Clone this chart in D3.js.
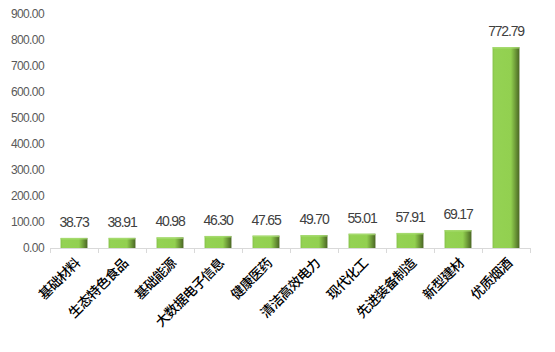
<!DOCTYPE html>
<html>
<head>
<meta charset="utf-8">
<script src="https://cdn.jsdelivr.net/npm/d3@7"></script>
<style>
  body { margin: 0; background: #fff; }
  text { font-family: "Liberation Sans", "Noto Sans CJK SC", sans-serif; }
</style>
</head>
<body>
<div id="chart"></div>
<script>
// categories and values
const categories = ["基础材料", "生态特色食品", "基础能源", "大数据电子信息", "健康医药",
    "清洁高效电力", "现代化工", "先进装备制造", "新型建材", "优质烟酒"];
const values = [38.73, 38.91, 40.98, 46.30, 47.65, 49.70, 55.01, 57.91, 69.17, 772.79];
const yTicks = [0, 100, 200, 300, 400, 500, 600, 700, 800, 900];

const W = 555, H = 352;
const margin = { top: 14, right: 25, bottom: 104, left: 50 };
const width = W - margin.left - margin.right;
const height = H - margin.top - margin.bottom;

const svgRoot = d3.select("#chart").append("svg")
    .attr("width", W)
    .attr("height", H);

// =========================
// BAR GRADIENT (3D look)
// =========================
const defs = svgRoot.append("defs");
const grad = defs.append("linearGradient")
    .attr("id", "barGrad")
    .attr("x1", "0%").attr("x2", "100%")
    .attr("y1", "0%").attr("y2", "0%");
[
    ["0%", "#86c24a"],
    ["8%", "#94d253"],
    ["68%", "#92d050"],
    ["80%", "#78aa3f"],
    ["100%", "#4a6624"]
].forEach(([o, c]) => grad.append("stop").attr("offset", o).attr("stop-color", c));

const svg = svgRoot.append("g")
    .attr("transform", `translate(${margin.left},${margin.top})`);

const x = d3.scaleBand()
    .domain(categories)
    .range([0, width])
    .paddingInner(0.44)
    .paddingOuter(0.22);

const y = d3.scaleLinear()
    .domain([0, 900])
    .range([height, 0]);

// y axis labels (no line)
const yAxis = svg.append("g")
    .call(d3.axisLeft(y).tickValues(yTicks).tickFormat(d3.format(".2f")).tickSize(0).tickPadding(6));
yAxis.select(".domain").remove();
yAxis.selectAll("text")
    .attr("fill", "#595959")
    .style("font-size", "12px")
    .style("letter-spacing", "-0.6px")
    .style("font-family", "Liberation Sans, sans-serif");

// bars
svg.selectAll(".bar")
    .data(values)
    .enter()
    .append("rect")
    .attr("class", "bar")
    .attr("x", (d, i) => x(categories[i]))
    .attr("y", d => y(d))
    .attr("width", x.bandwidth())
    .attr("height", d => height - y(d))
    .attr("fill", "url(#barGrad)");

// top highlight
svg.selectAll(".barTop")
    .data(values)
    .enter()
    .append("rect")
    .attr("x", (d, i) => x(categories[i]))
    .attr("y", d => y(d))
    .attr("width", x.bandwidth())
    .attr("height", 1.5)
    .attr("fill", "#a9dc74")
    .attr("opacity", 0.8);

// x axis with category separators
const step = x.step();
const xAxisG = svg.append("g").attr("transform", `translate(0,${height})`);
xAxisG.append("line")
    .attr("x1", 0).attr("x2", width)
    .attr("y1", 0.5).attr("y2", 0.5)
    .attr("stroke", "#d9d9d9");
xAxisG.selectAll(".tk")
    .data(d3.range(categories.length + 1))
    .enter()
    .append("line")
    .attr("x1", i => Math.round(i * step) + 0.5)
    .attr("x2", i => Math.round(i * step) + 0.5)
    .attr("y1", 0).attr("y2", 5)
    .attr("stroke", "#d9d9d9");

// category labels, rotated
xAxisG.selectAll(".cat")
    .data(categories)
    .enter()
    .append("text")
    .attr("transform", d => `translate(${x(d) + x.bandwidth() / 2 + 7},${16}) rotate(-45)`)
    .attr("text-anchor", "end")
    .attr("fill", "#000")
    .style("font-size", "13.5px")
    .style("font-weight", "500")
    .style("font-family", "Noto Sans CJK SC, sans-serif")
    .style("letter-spacing", "-0.6px")
    .text(d => d);

// value labels
svg.selectAll(".val")
    .data(values)
    .enter()
    .append("text")
    .attr("x", (d, i) => x(categories[i]) + x.bandwidth() / 2)
    .attr("y", d => y(d) - 11)
    .attr("text-anchor", "middle")
    .attr("fill", "#404040")
    .style("font-size", "14px")
    .style("letter-spacing", "-1.2px")
    .text(d => d.toFixed(2));
</script>
</body>
</html>
